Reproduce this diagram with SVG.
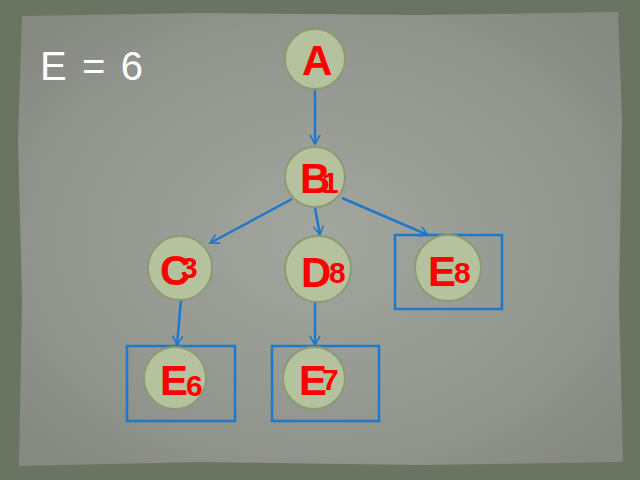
<svg xmlns="http://www.w3.org/2000/svg" width="640" height="480" viewBox="0 0 640 480">
<defs>
<radialGradient id="paper" cx="50%" cy="50%" r="65%">
<stop offset="0" stop-color="#a3a59f"/>
<stop offset="0.7" stop-color="#92958e"/>
<stop offset="1" stop-color="#858980"/>
</radialGradient>
<marker id="arr" viewBox="0 0 12 12" refX="10" refY="6" markerWidth="12" markerHeight="12" markerUnits="userSpaceOnUse" orient="auto">
<path d="M1,1 L10,6 L1,11" fill="none" stroke="#1f78c8" stroke-width="1.6"/>
</marker>
</defs>
<style>
.node{fill:#b4c29d;stroke:#8c9a74;stroke-width:2}
.lbl{font-family:"Liberation Sans",Arial,sans-serif;font-weight:bold;fill:#ff0000;font-size:42px}
.sub{font-family:"Liberation Sans",Arial,sans-serif;font-weight:bold;fill:#ff0000;font-size:30px}
.edge{stroke:#1f78c8;stroke-width:2.5;fill:none;marker-end:url(#arr)}
.box{fill:none;stroke:#1f78c8;stroke-width:2.5}
</style>
<rect x="0" y="0" width="640" height="480" fill="#6a7462"/>
<path d="M22,16 L200,13 L420,15 L618,12 L622,120 L619,300 L623,462 L420,465 L200,462 L19,466 L22,300 L18,140 Z" fill="url(#paper)"/>
<text x="40" y="80" font-family="Liberation Sans, Arial, sans-serif" font-size="40" fill="#ffffff" textLength="103" lengthAdjust="spacing">E = 6</text>
<g id="connectors">
<line class="edge" x1="315" y1="90" x2="315" y2="144"/>
<line class="edge" x1="292" y1="199" x2="210" y2="243"/>
<line class="edge" x1="315" y1="208" x2="320" y2="235"/>
<line class="edge" x1="342" y1="198" x2="428" y2="235"/>
<line class="edge" x1="181" y1="300" x2="177" y2="345"/>
<line class="edge" x1="315" y1="300" x2="315" y2="345"/>
</g>
<g id="node-A">
<circle class="node" cx="315" cy="59" r="30"/>
<text class="lbl" x="302" y="75">A</text>
</g>
<g id="node-B">
<circle class="node" cx="315" cy="177" r="30"/>
<text class="lbl" x="300" y="193">B</text>
<text class="sub" x="322" y="193">1</text>
</g>
<g id="node-C">
<circle class="node" cx="180" cy="268" r="32"/>
<text class="lbl" x="160" y="285">C</text>
<text class="sub" x="181" y="278">3</text>
</g>
<g id="node-D">
<circle class="node" cx="318" cy="269" r="33"/>
<text class="lbl" x="301" y="287">D</text>
<text class="sub" x="329" y="283">8</text>
</g>
<g id="node-E8">
<rect class="box" x="395" y="235" width="107" height="74"/>
<circle class="node" cx="448" cy="268" r="33"/>
<text class="lbl" x="428" y="286">E</text>
<text class="sub" x="454" y="283">8</text>
</g>
<g id="node-E6">
<rect class="box" x="127" y="346" width="108" height="75"/>
<circle class="node" cx="175" cy="378" r="31"/>
<text class="lbl" x="160" y="395">E</text>
<text class="sub" x="186" y="396">6</text>
</g>
<g id="node-E7">
<rect class="box" x="272" y="346" width="107" height="75"/>
<circle class="node" cx="314" cy="378" r="31"/>
<text class="lbl" x="299" y="395">E</text>
<text class="sub" x="322" y="390">7</text>
</g>
</svg>
